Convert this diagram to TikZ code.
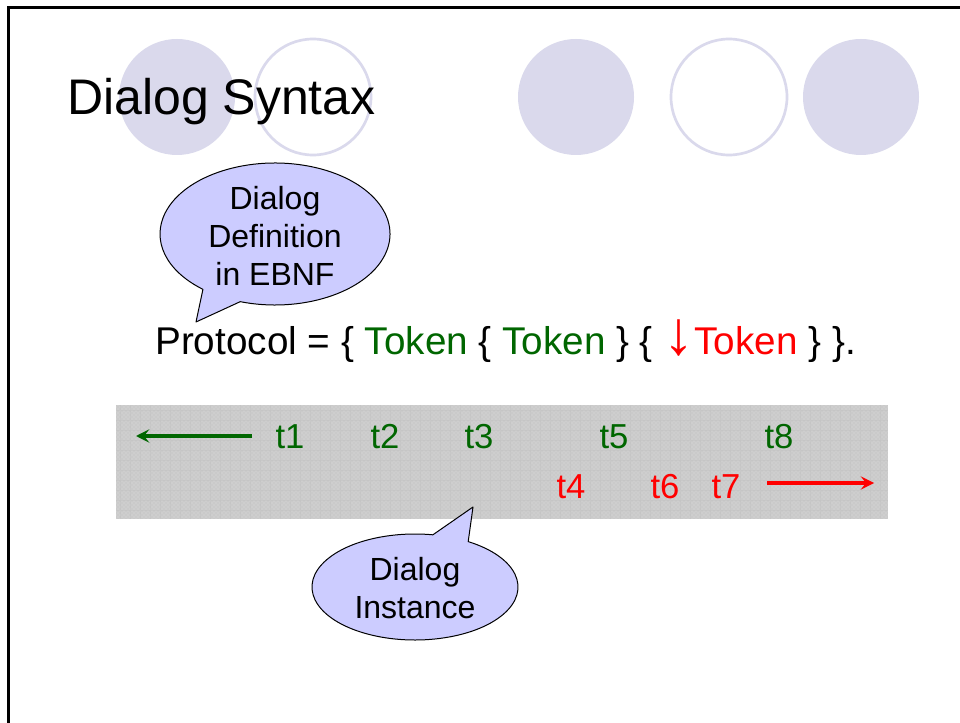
\documentclass[tikz,border=0pt]{standalone}
\usepackage{fontspec}
\setmainfont{Liberation Sans}
\usetikzlibrary{arrows.meta,patterns,calc}
\definecolor{lav}{RGB}{218,217,236}
\definecolor{callfill}{RGB}{204,204,255}
\definecolor{tokgreen}{RGB}{0,102,0}
\definecolor{tokred}{RGB}{255,0,0}
\definecolor{bandgray}{RGB}{202,202,202}
\begin{document}
\begin{tikzpicture}[x=0.75pt,y=-0.75pt,
  decodisc/.style={fill=lav,draw=none},
  decoring/.style={draw=lav,line width=2pt,fill=white},
  callout/.style={fill=callfill,draw=black,line width=0.75pt,line join=round},
  calltext/.style={font=\fontsize{24}{28.5}\selectfont,align=center,inner sep=0pt},
  tok/.style={font=\fontsize{26}{30}\selectfont,inner sep=0pt,anchor=base},
  tokg/.style={tok,text=tokgreen},
  tokr/.style={tok,text=tokred},
  timearrow/.style={line width=2.5pt,-{Stealth[length=10pt,width=10pt,inset=4pt]}}]
\useasboundingbox (0,0) rectangle (960,723);
\fill[white] (0,0) rectangle (960,723);
% frame
\draw[line width=2.25pt,line join=miter] (962,8) -- (8,8) -- (8,725);
% decorative circles
\fill[decodisc] (177,97) circle[radius=58];
\draw[decoring] (313,97) circle[radius=58];
\fill[decodisc] (576,97) circle[radius=58];
\draw[decoring] (729,97) circle[radius=58];
\fill[decodisc] (861,97) circle[radius=58];
% title
\node[anchor=base west,inner sep=0pt,font=\fontsize{37.5}{45}\selectfont] (title) at (67,115) {Dialog Syntax};
% callout 1
\coordinate (c1) at (275,234);
\coordinate (tip1) at (196,322);
\draw[callout] (c1) ++(107.6:115 and 71) arc[start angle=107.6,end angle=-231.2,x radius=115,y radius=71] -- (tip1) -- cycle;
\node[calltext] (call1) at (275,236) {Dialog\\Definition\\in EBNF};
% protocol rule
\node[anchor=base west,inner sep=0pt,font=\fontsize{29}{35}\selectfont] (proto) at (155,355)
  {Protocol = \{ \textcolor{tokgreen}{Token} \{ \textcolor{tokgreen}{Token} \} \{ \textcolor{tokred}{\scalebox{1.6}[1.6]{↓}Token} \} \}.};
% band
\fill[bandgray] (116,405) rectangle (888,519);
\fill[pattern=crosshatch dots,pattern color=white,opacity=0.4] (116,405) rectangle (888,519);
\begin{scope}
\clip (116,405) rectangle (888,519);
\draw[gray!60,opacity=0.18,line width=0.4pt,step=7.5pt] (116,405) grid (888,519);
\end{scope}
% arrows
\coordinate (gs) at (252,436);
\coordinate (ge) at (136,436);
\draw[timearrow,tokgreen] (gs) -- (ge);
\coordinate (rs) at (767,483);
\coordinate (re) at (874,483);
\draw[timearrow,tokred] (rs) -- (re);
% tokens
\node[tokg] (t1) at (290,448) {t1};
\node[tokg] (t2) at (385,448) {t2};
\node[tokg] (t3) at (479,448) {t3};
\node[tokg] (t5) at (614,448) {t5};
\node[tokg] (t8) at (779,448) {t8};
\node[tokr] (t4) at (571,498) {t4};
\node[tokr] (t6) at (665,498) {t6};
\node[tokr] (t7) at (726,498) {t7};
% callout 2
\coordinate (c2) at (415,587);
\coordinate (tip2) at (473,507);
\draw[callout] (c2) ++(-58.9:103 and 53) arc[start angle=-58.9,end angle=280,x radius=103,y radius=53] -- (tip2) -- cycle;
\node[calltext] (call2) at (415,588) {Dialog\\Instance};
\end{tikzpicture}
\end{document}
